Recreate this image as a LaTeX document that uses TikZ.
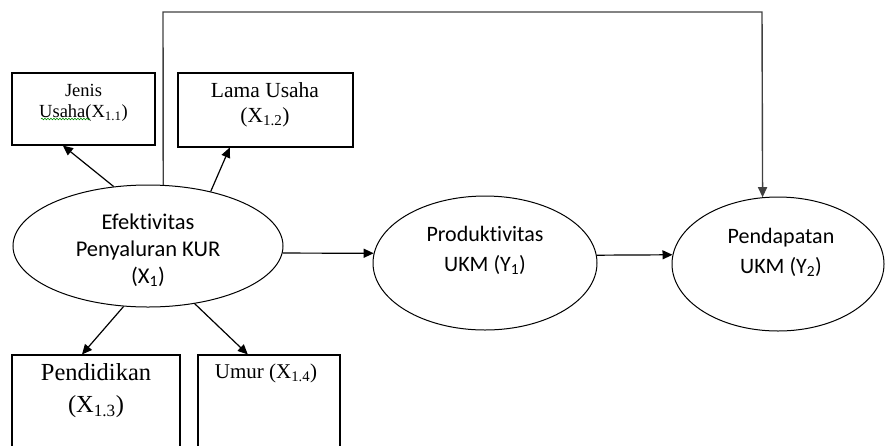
\documentclass[tikz,border=0pt]{standalone}
\usepackage{fontspec}
\setmainfont{Liberation Serif}
\newfontfamily\calib{Carlito}[Ligatures={NoCommon}]
\usetikzlibrary{shapes.geometric,arrows.meta,calc,decorations.pathmorphing}
\tikzset{
  box/.style={draw, line width=1.1pt, rectangle, inner sep=0pt},
  oval/.style={draw, line width=1pt, ellipse, inner sep=0pt},
  lbl/.style={align=center, inner sep=0pt},
  arr/.style={line width=1.2pt, -{Triangle[length=10pt,width=9pt]}},
}
\begin{document}
\begin{tikzpicture}[x=1pt,y=-1pt]
\useasboundingbox (0,0) rectangle (888,445);
% boxes
\node[box, minimum width=143pt, minimum height=72pt] (jenis) at (83.5,109) {};
\node[box, minimum width=175pt, minimum height=74pt] (lama) at (265.5,110) {};
\node[box, minimum width=168pt, minimum height=110pt] (pend) at (96,410) {};
\node[box, minimum width=142pt, minimum height=110pt] (umur) at (269,410) {};
% ellipses
\node[oval, minimum width=270pt, minimum height=122pt] (efe) at (148,246) {};
\node[oval, minimum width=224pt, minimum height=134pt] (prod) at (485,263) {};
\node[oval, minimum width=212pt, minimum height=134pt] (pdp) at (778,264) {};
% texts
\node[lbl, font=\fontsize{18.5}{21}\selectfont] (tjenis) at (83.5,103) {Jenis\\Usaha(X\textsubscript{1.1})};
\node[lbl, font=\fontsize{21.5}{25}\selectfont] (tlama) at (265,104.5) {Lama Usaha\\(X\textsubscript{1.2})};
\node[lbl, font=\fontsize{24.5}{32}\selectfont] (tpend) at (96,391) {Pendidikan\\(X\textsubscript{1.3})};
\node[lbl, font=\fontsize{21}{25}\selectfont] (tumur) at (266,373) {Umur (X\textsubscript{1.4})};
\node[lbl, font=\calib\fontsize{22.5}{27}\selectfont] (tefe) at (148,250) {Efektivitas\\Penyaluran KUR\\(X\textsubscript{1})};
\node[lbl, font=\calib\fontsize{22}{30}\selectfont] (tprod) at (485,250) {Produktivitas\\UKM (Y\textsubscript{1})};
\node[lbl, font=\calib\fontsize{22}{30}\selectfont] (tpdp) at (781,252) {Pendapatan\\UKM (Y\textsubscript{2})};
% spell-check underline
\coordinate (sq1) at (41,119);
\coordinate (sq2) at (90,119);
\draw[green!55!black, line width=0.6pt, decorate, decoration={snake, amplitude=0.8pt, segment length=3pt}] (sq1) -- (sq2);
% connectors
\draw[arr] (efe.120.7) -- ($(jenis.south west)!0.357!(jenis.south east)$);
\draw[arr] (efe.41.4) -- ($(lama.south west)!0.297!(lama.south east)$);
\draw[arr] (efe.248.8) -- ($(pend.north west)!0.417!(pend.north east)$);
\draw[arr] (efe.-51.1) -- ($(umur.north west)!0.352!(umur.north east)$);
\draw[arr] (efe.-3.4) -- (prod.175.4);
\draw[arr] (prod.4.1) -- (pdp.175.1);
\coordinate (tl) at (163,12);
\coordinate (tr) at (762,12);
\draw[line width=1.4pt, black!75, -{Triangle[length=10pt,width=9pt]}] (efe.76.1) -- (tl) -- (tr) -- (pdp.103.6);
\end{tikzpicture}
\end{document}
